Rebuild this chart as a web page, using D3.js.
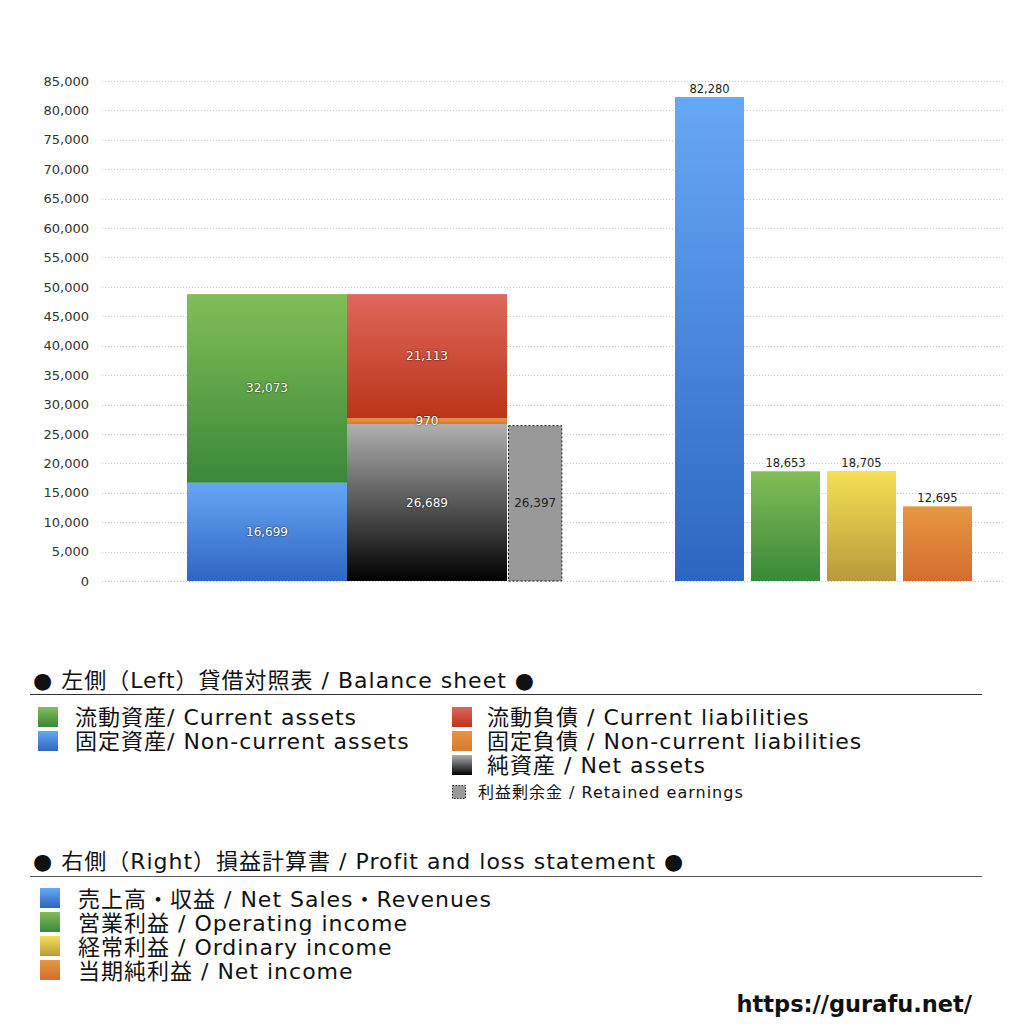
<!DOCTYPE html>
<html>
<head>
<meta charset="utf-8">
<script src="https://cdn.jsdelivr.net/npm/d3@7"></script>
<style>
  body { margin: 0; background: #fff; }
  text { font-family: "DejaVu Sans", "Noto Sans CJK JP", sans-serif; }
</style>
</head>
<body>
<div id="chart"></div>
<script>
// data
var assetNames = ["固定資産", "流動資産"];          // bottom -> top
var assetValues = [16699, 32073];
var liabilityNames = ["純資産", "固定負債", "流動負債"]; // bottom -> top
var liabilityValues = [26689, 970, 21113];
var retainedName = "利益剰余金";
var retainedValue = 26397;
var plNames = ["売上高", "営業利益", "経常利益", "当期純利益"];
var plValues = [82280, 18653, 18705, 12695];
var yTickValues = [0, 5000, 10000, 15000, 20000, 25000, 30000, 35000, 40000,
                   45000, 50000, 55000, 60000, 65000, 70000, 75000, 80000, 85000];

var bsLegendLeft = ["流動資産/ Current assets", "固定資産/ Non-current assets"];
var bsLegendRight = ["流動負債 /  Current liabilities", "固定負債 / Non-current liabilities", "純資産 / Net assets"];
var bsLegendSmall = "利益剰余金 / Retained earnings";
var plLegend = ["売上高・収益 / Net Sales・Revenues", "営業利益 / Operating income",
                "経常利益 / Ordinary income", "当期純利益 / Net income"];

// gradient colours (top, bottom)
var colors = {
  "流動資産": ["#82be56", "#3a883a"],
  "固定資産": ["#66a6f3", "#2f66c2"],
  "流動負債": ["#de675c", "#bb3418"],
  "固定負債": ["#ea9443", "#d9792c"],
  "純資産":   ["#b0b0b0", "#000000"],
  "売上高":   ["#66a8f6", "#2d66c0"],
  "営業利益": ["#82be56", "#3a883a"],
  "経常利益": ["#f5df55", "#b89a3c"],
  "当期純利益": ["#e69842", "#d46c2e"]
};

var width = 1024, height = 1024;
var svg = d3.select("#chart").append("svg")
            .attr("width", width).attr("height", height);

var defs = svg.append("defs");
Object.keys(colors).forEach(function(k, i){
  var g = defs.append("linearGradient").attr("id", "g" + i)
              .attr("x1", 0).attr("y1", 0).attr("x2", 0).attr("y2", 1);
  g.append("stop").attr("offset", "0%").attr("stop-color", colors[k][0]);
  g.append("stop").attr("offset", "100%").attr("stop-color", colors[k][1]);
  colors[k].id = "url(#g" + i + ")";
});

// scales
var y = d3.scaleLinear().domain([0, 85000]).range([581, 81]);
var xLeft = d3.scaleBand().domain(["assets", "liabilities"]).range([187, 507]);
var xRight = d3.scaleBand().domain(plNames).range([675, 972]).paddingInner(0.092);

// grid lines
svg.append("g").selectAll("line")
   .data(yTickValues)
   .enter().append("line")
   .attr("x1", 102).attr("x2", 1005)
   .attr("y1", function(d){ return Math.round(y(d)) + 0.5; })
   .attr("y2", function(d){ return Math.round(y(d)) + 0.5; })
   .attr("stroke", "#c8c8c8")
   .attr("stroke-dasharray", "1,2");

// y axis
var yAxis = d3.axisLeft(y).tickValues(yTickValues).tickSize(0).tickPadding(0)
              .tickFormat(d3.format(","));
var ag = svg.append("g").attr("transform", "translate(89,0)").call(yAxis);
ag.select(".domain").remove();
ag.selectAll("text").attr("font-size", 13).attr("fill", "#333")
  .style("font-family", "'DejaVu Sans', sans-serif");

// stacked columns on the left
function stackColumn(key, names, values){
  var ends = d3.cumsum(values);
  var g = svg.append("g");
  g.selectAll("rect")
   .data(values)
   .enter().append("rect")
   .attr("x", xLeft(key))
   .attr("width", xLeft.bandwidth())
   .attr("y", function(d, i){ return y(ends[i]); })
   .attr("height", function(d){ return y(0) - y(d); })
   .attr("fill", function(d, i){ return colors[names[i]].id; });
  g.selectAll("text")
   .data(values)
   .enter().append("text")
   .text(function(d){ return d3.format(",")(d); })
   .attr("x", xLeft(key) + xLeft.bandwidth() / 2)
   .attr("y", function(d, i){ return y(ends[i] - d / 2) + 4; })
   .attr("text-anchor", "middle")
   .attr("font-size", 12)
   .attr("fill", "#fff")
   .style("font-family", "'DejaVu Sans', sans-serif")
   .style("text-shadow", "0 0 2px rgba(0,0,0,0.9)");
}
stackColumn("assets", assetNames, assetValues);
stackColumn("liabilities", liabilityNames, liabilityValues);

// retained earnings (dashed)
var reX = xLeft("liabilities") + xLeft.bandwidth() + 1.5;
var reW = xLeft.bandwidth() / 3;
svg.append("rect")
   .attr("x", reX).attr("width", reW)
   .attr("y", y(retainedValue)).attr("height", y(0) - y(retainedValue))
   .attr("fill", "#999")
   .attr("stroke", "#111").attr("stroke-dasharray", "2,2");
svg.append("text")
   .text(d3.format(",")(retainedValue))
   .attr("x", reX + reW / 2)
   .attr("y", y(retainedValue / 2) + 4)
   .attr("text-anchor", "middle")
   .attr("font-size", 12).attr("fill", "#222")
   .style("font-family", "'DejaVu Sans', sans-serif");

// P/L bars on the right
svg.append("g").selectAll("rect")
   .data(plValues)
   .enter().append("rect")
   .attr("x", function(d, i){ return xRight(plNames[i]); })
   .attr("width", xRight.bandwidth())
   .attr("y", function(d){ return y(d); })
   .attr("height", function(d){ return y(0) - y(d); })
   .attr("fill", function(d, i){ return colors[plNames[i]].id; });
svg.append("g").selectAll("text")
   .data(plValues)
   .enter().append("text")
   .text(function(d){ return d3.format(",")(d); })
   .attr("x", function(d, i){ return xRight(plNames[i]) + xRight.bandwidth() / 2; })
   .attr("y", function(d){ return y(d) - 4; })
   .attr("text-anchor", "middle")
   .attr("font-size", 11.5).attr("fill", "#222")
   .style("font-family", "'DejaVu Sans', sans-serif");

// legends
function swatch(x, yy, size, fill){
  svg.append("rect").attr("x", x).attr("y", yy).attr("width", size).attr("height", size)
     .attr("fill", fill);
}
function label(x, yy, txt, size){
  svg.append("text").attr("x", x).attr("y", yy).text(txt)
     .attr("font-size", size).attr("fill", "#111")
     .attr("letter-spacing", 1);
}

label(33, 688, "● 左側（Left）貸借対照表 / Balance sheet ●", 22);
svg.append("line").attr("x1", 30).attr("x2", 982).attr("y1", 694.5).attr("y2", 694.5)
   .attr("stroke", "#333").attr("stroke-width", 1.2);

var bsLeftKeys = ["流動資産", "固定資産"];
bsLegendLeft.forEach(function(t, i){
  swatch(38, 707 + i * 24, 20, colors[bsLeftKeys[i]].id);
  label(75, 725 + i * 24, t, 22);
});
var bsRightKeys = ["流動負債", "固定負債", "純資産"];
bsLegendRight.forEach(function(t, i){
  swatch(452, 707 + i * 24, 20, colors[bsRightKeys[i]].id);
  label(487, 725 + i * 24, t, 22);
});
svg.append("rect").attr("x", 452.5).attr("y", 785.5).attr("width", 13).attr("height", 13)
   .attr("fill", "#999").attr("stroke", "#222").attr("stroke-dasharray", "1.5,1.5");
label(478, 798, bsLegendSmall, 16);

label(33, 869, "● 右側（Right）損益計算書 / Profit and loss statement ●", 22);
svg.append("line").attr("x1", 30).attr("x2", 982).attr("y1", 876.5).attr("y2", 876.5)
   .attr("stroke", "#555").attr("stroke-width", 1.2);
plLegend.forEach(function(t, i){
  swatch(40, 888 + i * 24, 20, colors[plNames[i]].id);
  label(78, 907 + i * 24, t, 22);
});

svg.append("text").attr("x", 972).attr("y", 1012)
   .attr("text-anchor", "end").text("https://gurafu.net/")
   .attr("font-size", 22.5).attr("font-weight", "bold").attr("fill", "#111")
   .style("font-family", "'DejaVu Sans', sans-serif");
</script>
</body>
</html>
